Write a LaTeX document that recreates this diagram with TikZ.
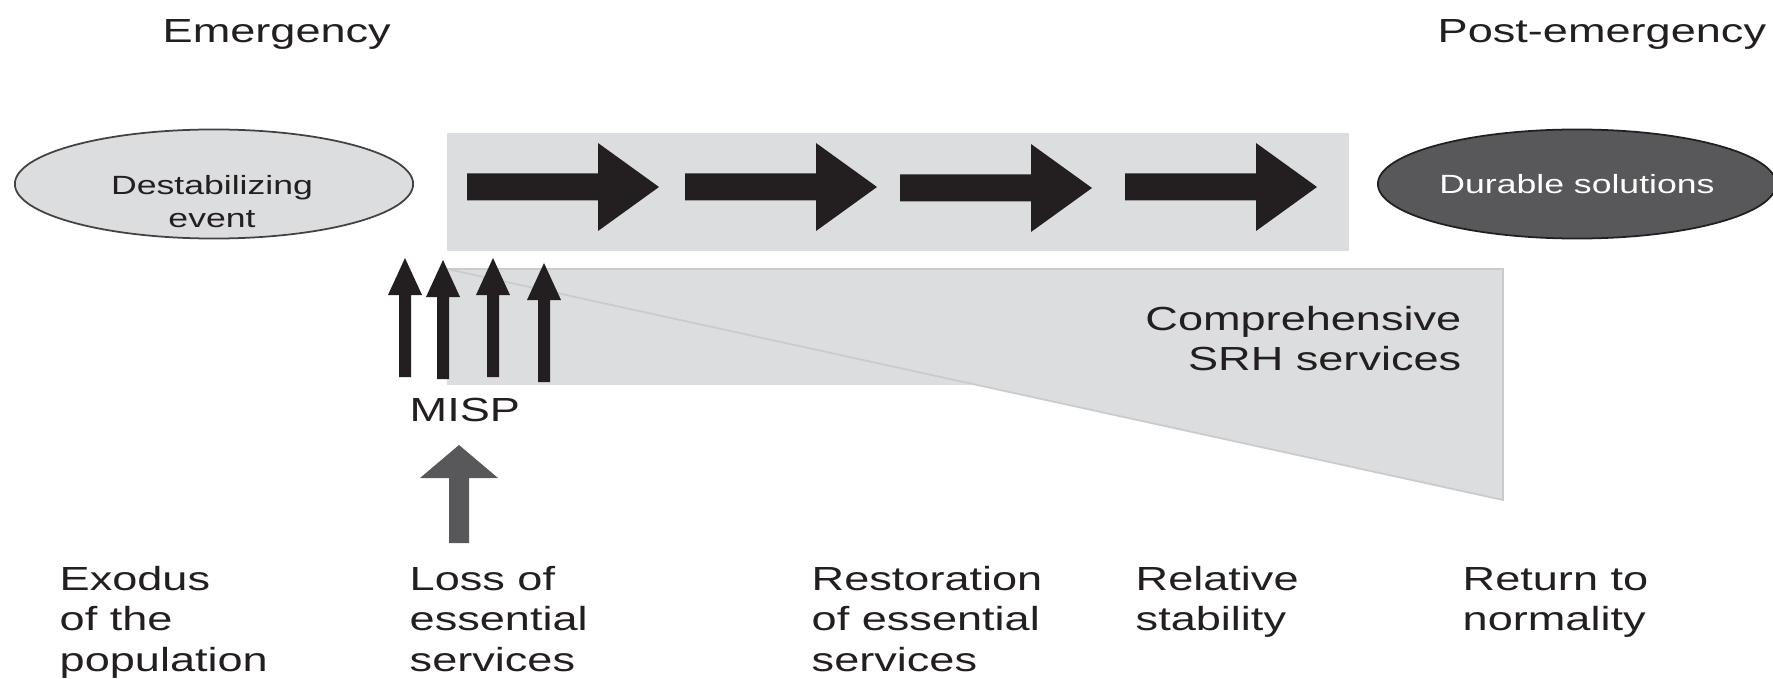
\documentclass[tikz,border=0pt]{standalone}
\usepackage{fontspec}
\setmainfont[FakeStretch=1.35]{Liberation Sans}
\usetikzlibrary{shapes.geometric}
\definecolor{panel}{HTML}{DCDDDF}
\definecolor{paneledge}{HTML}{CACBCD}
\definecolor{inkblack}{HTML}{231F20}
\definecolor{darkfill}{HTML}{58585A}
\newcommand{\mlL}[1]{\begin{tabular}[t]{@{}l@{}}#1\end{tabular}}
\newcommand{\mlR}[1]{\begin{tabular}[t]{@{}r@{}}#1\end{tabular}}
\newcommand{\mlC}[1]{\begin{tabular}[t]{@{}c@{}}#1\end{tabular}}
\begin{document}
\begin{tikzpicture}[x=0.01cm,y=-0.01cm,
  lbl/.style={inner sep=0pt, text=inkblack, font=\fontsize{9.5}{11.6}\selectfont},
  smalltext/.style={inner sep=0pt, font=\fontsize{7.5}{9.1}\selectfont},
  phase/.style={ellipse, line width=0.5pt, minimum width=3.98cm, minimum height=1.09cm, inner sep=0pt},
  harrow/.pic={\fill[inkblack] (0,-13.5) -- (131,-13.5) -- (131,-44) -- (192,0) -- (131,44) -- (131,13.5) -- (0,13.5) -- cycle;},
  varrow/.pic={\fill[inkblack] (-6,0) -- (-6,-82) -- (-17,-82) -- (0,-119) -- (17,-82) -- (6,-82) -- (6,0) -- cycle;},
]
\useasboundingbox[fill=white] (0,0) rectangle (1773,679);

% top labels
\node[lbl, anchor=base west] (emerg) at (162,43) {Emergency};
\node[lbl, anchor=base west] (postemerg) at (1437,43) {Post-emergency};

% ellipses
\node[phase, draw=inkblack!85, fill=panel] (destab) at (214,184) {};
\node[smalltext, text=inkblack, anchor=base] (destabtext) at (212,195) {\mlC{Destabilizing\\event}};
\node[phase, draw=inkblack, fill=darkfill, text=white, font=\fontsize{7.5}{9.1}\selectfont] (durable) at (1577,184) {Durable solutions};

% top panel with arrows
\fill[panel] (447,133) rectangle (1349,251);
\pic at (467,187) {harrow};
\pic at (685,187) {harrow};
\pic at (900,188) {harrow};
\pic at (1125,187) {harrow};

% lower panel: rectangle and wedge
\fill[panel] (447,268) rectangle (995,385);
\filldraw[fill=panel, draw=paneledge, line width=0.5pt, line join=miter] (447,269) -- (1503,269) -- (1503,500) -- cycle;

\node[lbl, anchor=base east] (comp) at (1462,330) {\mlR{Comprehensive\\SRH services}};

% MISP arrows
\pic at (405,377) {varrow};
\pic at (443,379) {varrow};
\pic at (493,377) {varrow};
\pic at (544,382) {varrow};
\node[lbl, anchor=base west] (misp) at (409,421) {MISP};
\fill[darkfill] (449,543) -- (449,478) -- (420,478) -- (459,445) -- (498,478) -- (469,478) -- (469,543) -- cycle;

% bottom labels
\node[lbl, anchor=base west] (exodus) at (59,590) {\mlL{Exodus\\of the\\population}};
\node[lbl, anchor=base west] (loss) at (409,590) {\mlL{Loss of\\essential\\services}};
\node[lbl, anchor=base west] (resto) at (811,590) {\mlL{Restoration\\of essential\\services}};
\node[lbl, anchor=base west] (relat) at (1135,590) {\mlL{Relative\\stability}};
\node[lbl, anchor=base west] (ret) at (1462,590) {\mlL{Return to\\normality}};
\end{tikzpicture}
\end{document}
